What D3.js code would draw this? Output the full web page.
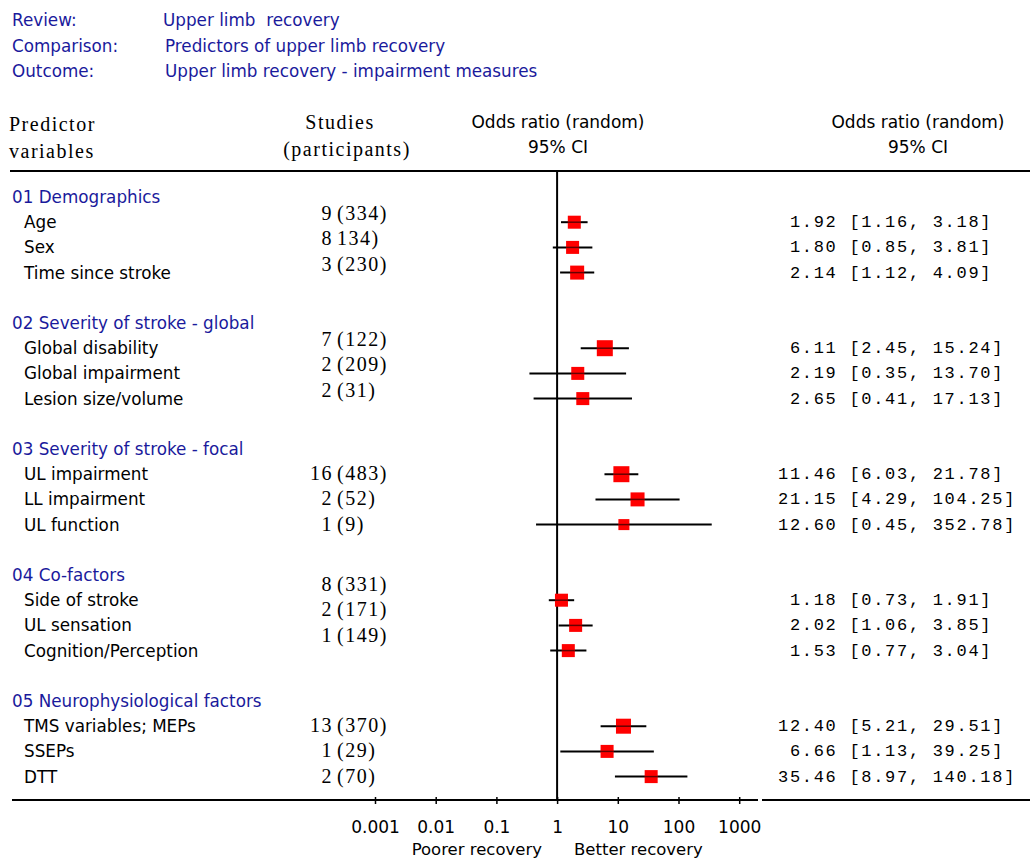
<!DOCTYPE html>
<html>
<head>
<meta charset="utf-8">
<script src="https://cdn.jsdelivr.net/npm/d3@7/dist/d3.min.js"></script>
<style>
  html, body { margin: 0; padding: 0; background: #fff; }
  svg { display: block; }
  .sans { font-family: "DejaVu Sans", Verdana, sans-serif; font-size: 16.8px; }
  .serif { font-family: "Liberation Serif", "Times New Roman", serif; font-size: 20px; letter-spacing: 1.5px; }
  .mono { font-family: "Liberation Mono", "Courier New", monospace; font-size: 17px; letter-spacing: 1.7px; white-space: pre; }
</style>
</head>
<body>
<svg id="chart" width="1030" height="860"></svg>
<script>
// ---- Data ----------------------------------------------------------------
const infoLabels = ["Review:", "Comparison:", "Outcome:"];
const infoValues = ["Upper limb  recovery", "Predictors of upper limb recovery", "Upper limb recovery - impairment measures"];

const groups = [
  "01 Demographics",
  "02 Severity of stroke - global",
  "03 Severity of stroke - focal",
  "04 Co-factors",
  "05 Neurophysiological factors"
];
const predictors = [
  "Age", "Sex", "Time since stroke",
  "Global disability", "Global impairment", "Lesion size/volume",
  "UL impairment", "LL impairment", "UL function",
  "Side of stroke", "UL sensation", "Cognition/Perception",
  "TMS variables; MEPs", "SSEPs", "DTT"
];
const predictorGroup = [0, 0, 0, 1, 1, 1, 2, 2, 2, 3, 3, 3, 4, 4, 4];
const studies = [
  "9 (334)", "8 134)", "3 (230)",
  "7 (122)", "2 (209)", "2 (31)",
  "16 (483)", "2 (52)", "1 (9)",
  "8 (331)", "2 (171)", "1 (149)",
  "13 (370)", "1 (29)", "2 (70)"
];
const oddsRatio = [1.92, 1.80, 2.14, 6.11, 2.19, 2.65, 11.46, 21.15, 12.60, 1.18, 2.02, 1.53, 12.40, 6.66, 35.46];
const ciLow     = [1.16, 0.85, 1.12, 2.45, 0.35, 0.41, 6.03, 4.29, 0.45, 0.73, 1.06, 0.77, 5.21, 1.13, 8.97];
const ciHigh    = [3.18, 3.81, 4.09, 15.24, 13.70, 17.13, 21.78, 104.25, 352.78, 1.91, 3.85, 3.04, 29.51, 39.25, 140.18];

const tickValues = [0.001, 0.01, 0.1, 1, 10, 100, 1000];
const tickLabels = ["0.001", "0.01", "0.1", "1", "10", "100", "1000"];

// ---- Layout / style constants -------------------------------------------
const BLUE = "#1a1a9c";
const boxPx = [13, 13, 14, 16, 13, 13, 16, 14, 11, 13, 13, 13, 15, 13, 13];
const studyNudge = [-9, -9, -1, -16, -1];   // vertical shift of the study column per group
const axisY = 800, headerLineY = 171;

const svg = d3.select("#chart");

// Build the row list: group header, its predictors, then a blank spacer row
const rows = [];
groups.forEach((g, gi) => {
  rows.push({ type: "group", label: g, gi });
  predictors.forEach((p, i) => {
    if (predictorGroup[i] === gi) rows.push({ type: "item", i, gi });
  });
  if (gi < groups.length - 1) rows.push({ type: "blank" });
});

const y = d3.scalePoint()
  .domain(d3.range(rows.length))
  .range([197, 197 + 25.2 * (rows.length - 1)]);

const x = d3.scaleLog().domain([0.001, 1000]).range([375, 739.2]);

// ---- Top info block ------------------------------------------------------
const info = svg.append("g").attr("class", "sans").attr("fill", BLUE);
infoLabels.forEach((t, k) => {
  info.append("text").attr("x", 12).attr("y", 26 + k * 25.5).text(t);
  info.append("text").attr("x", k === 0 ? 163 : 165).attr("y", 26 + k * 25.5)
    .style("white-space", "pre").text(infoValues[k]);
});

// ---- Column headers ------------------------------------------------------
const hdr = svg.append("g");
hdr.append("text").attr("class", "serif").attr("x", 9).attr("y", 131).text("Predictor");
hdr.append("text").attr("class", "serif").attr("x", 9).attr("y", 158).text("variables");
hdr.append("text").attr("class", "serif").attr("x", 340).attr("y", 129).attr("text-anchor", "middle").text("Studies");
hdr.append("text").attr("class", "serif").attr("x", 347).attr("y", 156).attr("text-anchor", "middle").text("(participants)");
hdr.append("text").attr("class", "sans").attr("x", 558).attr("y", 128).attr("text-anchor", "middle").style("font-size", "17px").text("Odds ratio (random)");
hdr.append("text").attr("class", "sans").attr("x", 558).attr("y", 153).attr("text-anchor", "middle").style("font-size", "17px").text("95% CI");
hdr.append("text").attr("class", "sans").attr("x", 918).attr("y", 128).attr("text-anchor", "middle").style("font-size", "17px").text("Odds ratio (random)");
hdr.append("text").attr("class", "sans").attr("x", 918).attr("y", 153).attr("text-anchor", "middle").style("font-size", "17px").text("95% CI");

svg.append("line").attr("x1", 10).attr("x2", 1030).attr("y1", headerLineY).attr("y2", headerLineY)
  .attr("stroke", "#000").attr("stroke-width", 2);

// ---- Line of no effect ----------------------------------------------------
svg.append("line").attr("x1", x(1)).attr("x2", x(1)).attr("y1", headerLineY).attr("y2", axisY)
  .attr("stroke", "#000").attr("stroke-width", 2);

// ---- Rows ----------------------------------------------------------------
const body = svg.append("g");
rows.forEach((r, ri) => {
  const cy = y(ri);
  if (r.type === "group") {
    body.append("text").attr("class", "sans").attr("fill", BLUE)
      .attr("x", 12).attr("y", cy + 6).text(r.label);
  } else if (r.type === "item") {
    const i = r.i;
    body.append("text").attr("class", "sans").attr("fill", "#000")
      .attr("x", 24).attr("y", cy + 6).text(predictors[i]);

    // studies (participants): count right-aligned, the rest follows
    const sy = cy + 7 + studyNudge[r.gi];
    const sp = studies[i].indexOf(" ");
    body.append("text").attr("class", "serif").attr("text-anchor", "end")
      .attr("x", 333).attr("y", sy).text(studies[i].slice(0, sp));
    body.append("text").attr("class", "serif")
      .attr("x", 337).attr("y", sy).text(studies[i].slice(sp + 1));

    // confidence interval and point estimate
    body.append("line").attr("x1", x(ciLow[i])).attr("x2", x(ciHigh[i]))
      .attr("y1", cy).attr("y2", cy).attr("stroke", "#000").attr("stroke-width", 2);
    const s = boxPx[i];
    body.append("rect").attr("x", x(oddsRatio[i]) - s / 2).attr("y", cy - s / 2)
      .attr("width", s).attr("height", s).attr("fill", "#ff0000");
    body.append("line").attr("x1", x(oddsRatio[i]) - s / 2).attr("x2", x(oddsRatio[i]) + s / 2)
      .attr("y1", cy).attr("y2", cy).attr("stroke", "#000").attr("stroke-width", 1.5).attr("stroke-opacity", 0.6);

    // numeric summary
    const txt = oddsRatio[i].toFixed(2).padStart(5) + " [" + ciLow[i].toFixed(2) + ", " + ciHigh[i].toFixed(2) + "]";
    body.append("text").attr("class", "mono").attr("fill", "#000")
      .attr("x", 778).attr("y", cy + 5).text(txt);
  }
});

// ---- Axis ----------------------------------------------------------------
svg.append("line").attr("x1", 12).attr("x2", 758).attr("y1", axisY).attr("y2", axisY)
  .attr("stroke", "#000").attr("stroke-width", 2);
svg.append("line").attr("x1", 762).attr("x2", 1030).attr("y1", axisY).attr("y2", axisY)
  .attr("stroke", "#000").attr("stroke-width", 2);

const axis = d3.axisBottom(x)
  .tickValues(tickValues)
  .tickFormat((d, k) => tickLabels[k])
  .tickSizeInner(3)
  .tickSizeOuter(0)
  .tickPadding(18);

const ax = svg.append("g").attr("transform", `translate(0,${axisY})`).call(axis);
ax.select(".domain").remove();
ax.selectAll(".tick line").attr("y1", -3).attr("y2", 4).attr("stroke", "#000").attr("stroke-width", 1.5);
ax.selectAll(".tick text")
  .attr("font-family", "DejaVu Sans, Verdana, sans-serif")
  .attr("font-size", 17).attr("fill", "#000");

svg.append("text").attr("class", "sans").style("font-size", "16.5px")
  .attr("x", 542).attr("y", 855).attr("text-anchor", "end").text("Poorer recovery");
svg.append("text").attr("class", "sans").style("font-size", "16.5px")
  .attr("x", 574).attr("y", 855).text("Better recovery");
</script>
</body>
</html>
